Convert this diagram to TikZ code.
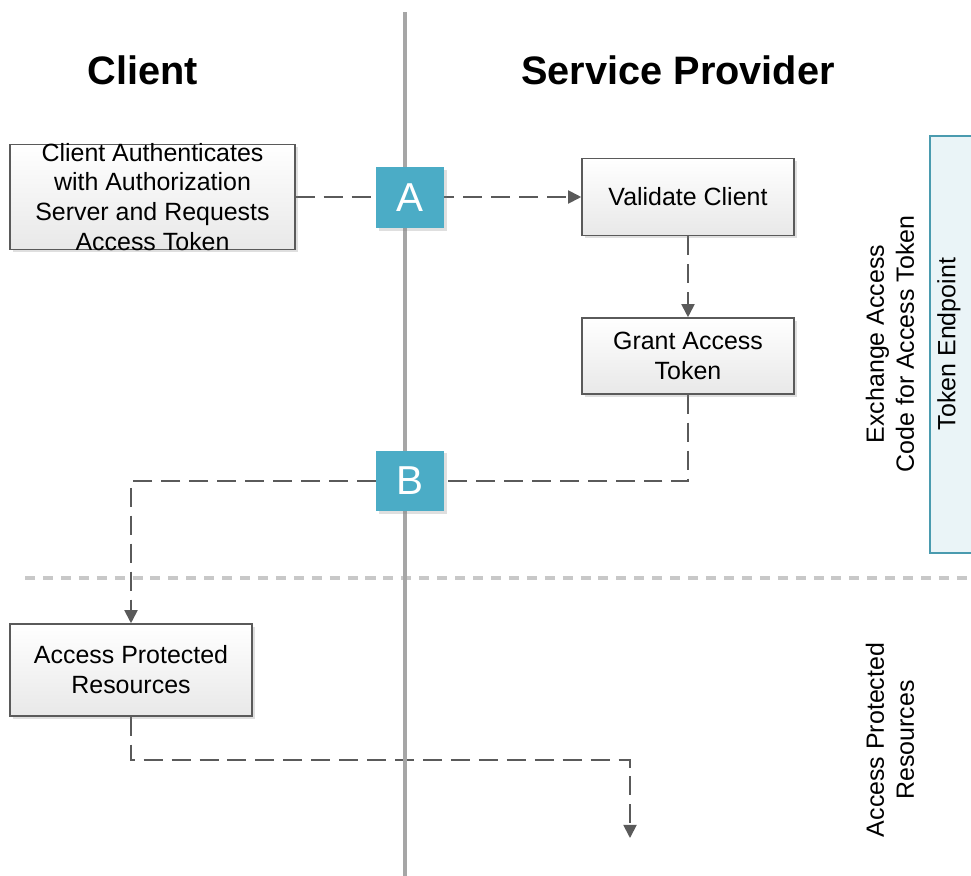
\documentclass[tikz,border=0pt]{standalone}
\usepackage{fontspec}
\setmainfont{Liberation Sans}
\usepackage{tikz}
\usetikzlibrary{arrows.meta}
\usetikzlibrary{positioning}
\usetikzlibrary{shadows}
\usetikzlibrary{backgrounds}
\definecolor{lanegray}{HTML}{A6A6A6}
\definecolor{splitgray}{HTML}{C8C8C8}
\definecolor{flowgray}{HTML}{5A5A5A}
\definecolor{markerteal}{HTML}{4BACC6}
\definecolor{endpointfill}{HTML}{EAF4F7}
\definecolor{endpointline}{HTML}{4A9BAF}
\tikzstyle{soft shadow} = [drop shadow = {shadow xshift = 1.5pt, shadow yshift = -1.5pt, opacity = .25}]
\tikzstyle{process box} = [draw = flowgray, line width = .9pt, top color = white, bottom color = black!9, soft shadow, font = \fontsize{14.2}{17}\selectfont, align = center, inner sep = 0]
\tikzstyle{box text} = [align = center, font = \fontsize{14.2}{17}\selectfont, inner sep = 0]
\tikzstyle{lane marker} = [fill = markerteal, text = white, soft shadow, font = \fontsize{23}{23}\selectfont, minimum width = 1.36cm, minimum height = 1.22cm, inner sep = 0]
\tikzstyle{flow} = [draw = flowgray, line width = 1.05pt, dash pattern = on 10.8pt off 5.1pt]
\tikzstyle{lane title} = [font = \fontsize{22.6}{24}\selectfont\bfseries]
\tikzstyle{phase note} = [rotate = 90, align = center, font = \fontsize{14.2}{17}\selectfont, inner sep = 0]

\begin{document}
\begin{tikzpicture}[x = .02cm, y = -.02cm,
                    >= {Triangle[length = 7.5pt, width = 7.5pt]},
                    lane line/.style = {draw = lanegray, line width = 2pt},
                    phase line/.style = {draw = splitgray, line width = 2pt, dash pattern = on 5.7pt off 4.5pt},
                    endpoint box/.style = {draw = endpointline, line width = .9pt, fill = endpointfill},
                   ]
    \clip (0, 0) rectangle (971, 876);

    % lanes and phases
    \path [phase line] (25, 578) -- (971, 578);
    \path [lane line] (405, 12) -- (405, 876);
    \path [endpoint box] (930, 136) rectangle (1000, 553);

    \node [lane title] (client) at (143, 70) {Client};
    \node [lane title] (provider) at (678, 70) {Service Provider};

    % steps
    \node [process box, minimum width = 5.7cm, minimum height = 2.1cm] (auth) at (152.5, 197) {};
    \node [box text] (authtext) at (auth) {Client Authenticates\\with Authorization\\Server and Requests\\Access Token};
    \node [process box, minimum width = 4.24cm, minimum height = 1.54cm] (validate) at (688, 197) {Validate Client};
    \node [process box, minimum width = 4.24cm, minimum height = 1.52cm] (grant) at (688, 356) {Grant Access\\Token};
    \node [process box, minimum width = 4.84cm, minimum height = 1.84cm] (resources) at (131, 670) {Access Protected\\Resources};

    \node [lane marker] (markerA) at (410, 197.5) {A};
    \node [lane marker] (markerB) at (410, 481) {B};

    \coordinate (bend) at (630, 760);
    \coordinate (out) at (630, 838);

    % side notes
    \node [phase note] (exchange) at (890, 344) {Exchange Access\\Code for Access Token};
    \node [phase note] (endpoint) at (949, 344) {Token Endpoint};
    \node [phase note] (protected) at (890, 740) {Access Protected\\Resources};

    \begin{pgfonlayer}{background}
        \path [flow, ->] (auth) -- (validate);
        \path [flow, ->] (validate) -- (grant);
        \path [flow, ->] (grant.south) |- (markerB) -| (resources.north);
        \path [flow, ->] (resources.south) |- (bend) -- (out);
    \end{pgfonlayer}
\end{tikzpicture}
\end{document}
